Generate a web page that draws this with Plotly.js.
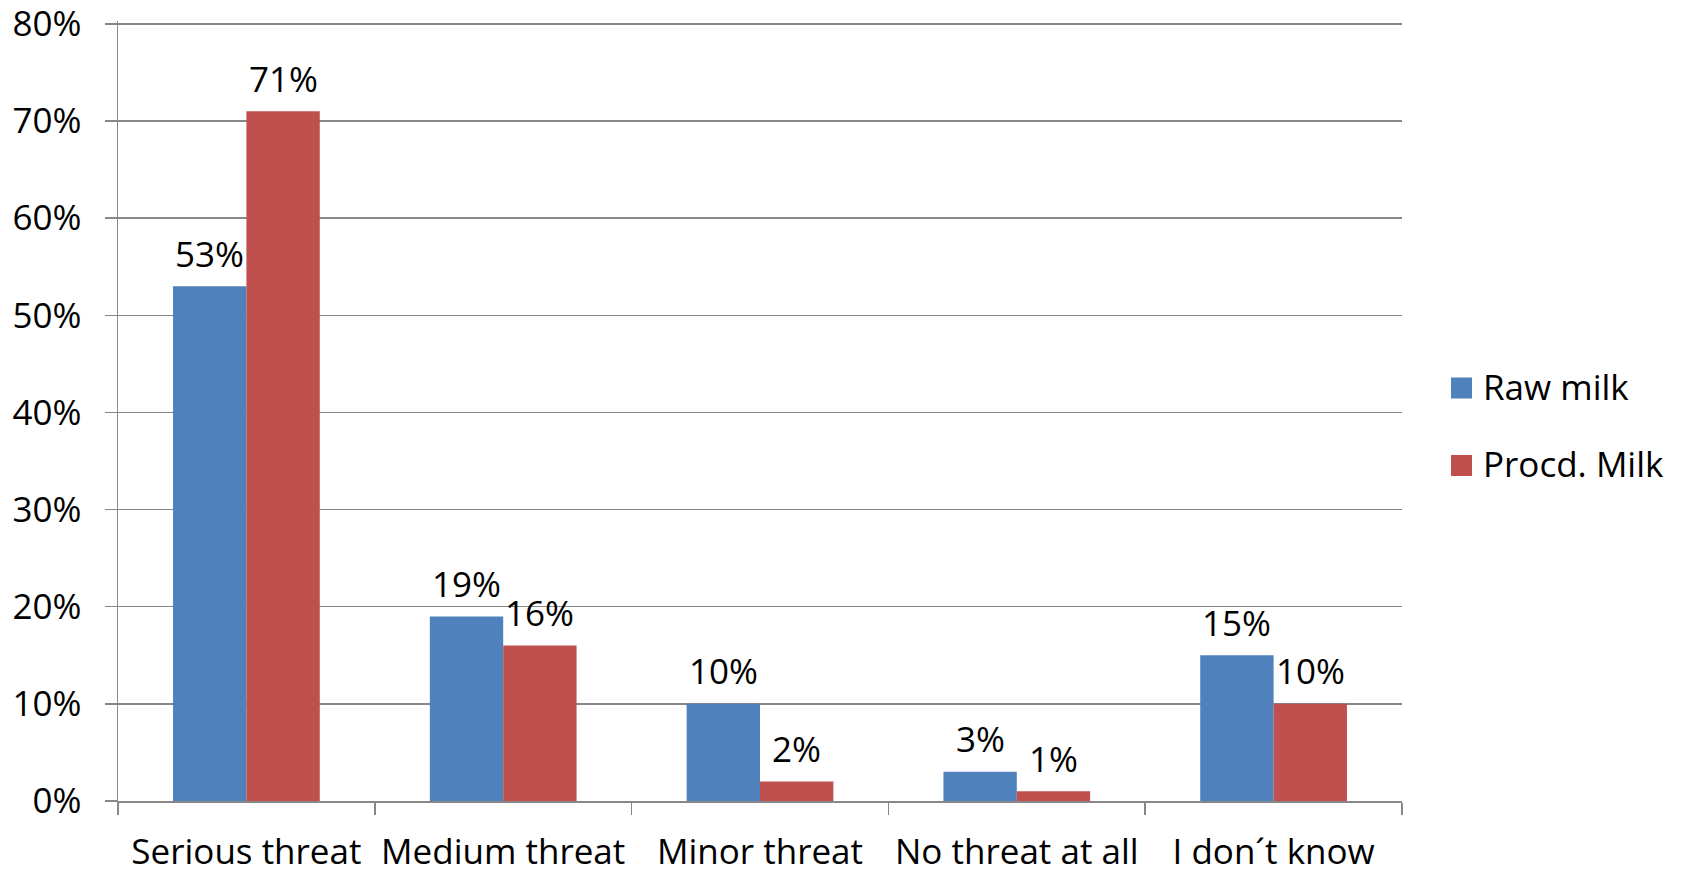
<!DOCTYPE html>
<html>
<head>
<meta charset="utf-8">
<script src="https://cdn.plot.ly/plotly-3.0.1.min.js"></script>
<style>
  html, body { margin: 0; padding: 0; background: #ffffff; }
  #chart { width: 1685px; height: 872px; }
</style>
</head>
<body>
<div id="chart"></div>
<script>
// Perceived threat survey: raw vs processed milk
const categories = ['Serious threat', 'Medium threat', 'Minor threat', 'No threat at all', 'I don´t know'];
const rawMilk = [0.53, 0.19, 0.10, 0.03, 0.15];
const procdMilk = [0.71, 0.16, 0.02, 0.01, 0.10];
const seriesNames = ['Raw milk', 'Procd. Milk'];
const seriesColors = ['#4F81BD', '#C0504D'];
const yTickVals = [0, 0.1, 0.2, 0.3, 0.4, 0.5, 0.6, 0.7, 0.8];
const yTickText = ['0%', '10%', '20%', '30%', '40%', '50%', '60%', '70%', '80%'];

// Page geometry (a little headroom above 80% keeps its grid line from being clipped)
const W = 1685, H = 872;
const Y_MAX = 0.803;
const M = { l: 118, r: 283, t: 21, b: 71 };
const plotW = W - M.l - M.r;
const plotH = H - M.t - M.b;
const BARGAP = 1.5 / 3.5;
const FONT = 'Open Sans, Noto Sans, sans-serif';
const FSIZE = 35;
const GRID = '#878787';

const seriesData = [rawMilk, procdMilk];

const traces = seriesData.map((vals, i) => ({
  type: 'bar',
  name: seriesNames[i],
  x: categories,
  y: vals,
  marker: { color: seriesColors[i], line: { width: 0 } },
  hoverinfo: 'skip',
  showlegend: false
}));

// Value labels centred over each bar
const barPx = (plotW / categories.length) * (1 - BARGAP) / seriesData.length;
const annotations = [];
seriesData.forEach((vals, i) => {
  const shift = (i - (seriesData.length - 1) / 2) * barPx;
  vals.forEach((v, j) => {
    annotations.push({
      xref: 'x', yref: 'y',
      x: categories[j], y: v,
      xshift: shift, yshift: 33,
      xanchor: 'center', yanchor: 'middle',
      text: Math.round(v * 100) + '%',
      showarrow: false,
      font: { family: FONT, size: FSIZE, color: '#000000' }
    });
  });
});

// Legend: coloured squares with series names to the right of the plot
const px2x = px => (px - M.l) / plotW;
const py2y = py => (H - M.b - py) / plotH;
const legendRows = [388, 465.5];
const shapes = [];
seriesNames.forEach((name, i) => {
  const cy = legendRows[i];
  shapes.push({
    type: 'rect', xref: 'paper', yref: 'paper',
    x0: px2x(1451), x1: px2x(1472),
    y0: py2y(cy + 10.5), y1: py2y(cy - 10.5),
    fillcolor: seriesColors[i], line: { width: 0 }
  });
  annotations.push({
    xref: 'paper', yref: 'paper',
    x: px2x(1481), y: py2y(cy - 2),
    xanchor: 'left', yanchor: 'middle',
    text: name, showarrow: false,
    font: { family: FONT, size: FSIZE, color: '#000000' }
  });
});

const layout = {
  width: W, height: H,
  margin: M,
  paper_bgcolor: '#ffffff',
  plot_bgcolor: '#ffffff',
  barmode: 'group',
  bargap: BARGAP,
  bargroupgap: 0,
  showlegend: false,
  font: { family: FONT, size: FSIZE, color: '#000000' },
  xaxis: {
    type: 'category',
    showgrid: false,
    zeroline: false,
    showline: true,
    linecolor: GRID,
    linewidth: 1.5,
    ticks: 'outside',
    tickson: 'boundaries',
    ticklen: 12,
    tickwidth: 1.5,
    tickcolor: GRID,
    tickfont: { family: FONT, size: FSIZE, color: '#000000' },
    ticklabelstandoff: 19,
    ticklabeloverflow: 'allow'
  },
  yaxis: {
    range: [0, Y_MAX],
    tickmode: 'array',
    tickvals: yTickVals,
    ticktext: yTickText,
    showgrid: true,
    gridcolor: GRID,
    gridwidth: 1.5,
    zeroline: false,
    showline: true,
    linecolor: GRID,
    linewidth: 1.5,
    ticks: 'outside',
    ticklen: 12,
    tickwidth: 1.5,
    tickcolor: GRID,
    tickfont: { family: FONT, size: FSIZE, color: '#000000' },
    ticklabelstandoff: 16,
    ticklabeloverflow: 'allow'
  },
  shapes: shapes,
  annotations: annotations
};

Plotly.newPlot('chart', traces, layout, { staticPlot: true, displayModeBar: false });
</script>
</body>
</html>
